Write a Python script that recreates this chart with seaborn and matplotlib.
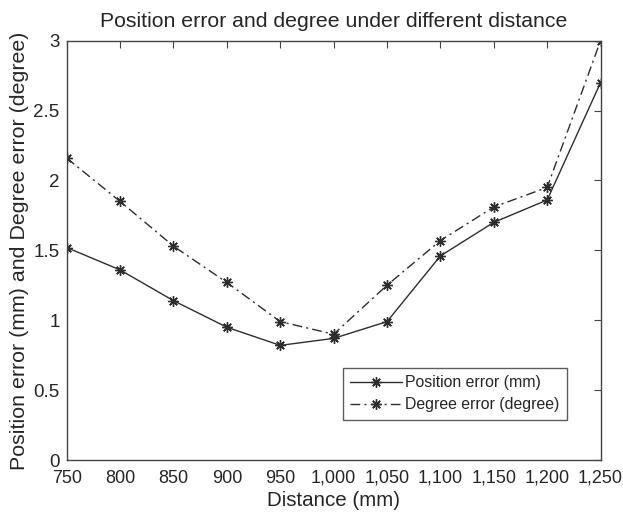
import pandas as pd
import matplotlib
matplotlib.use("Agg")
import matplotlib.pyplot as plt
import seaborn as sns

# === Data ===
distance = [750, 800, 850, 900, 950, 1000, 1050, 1100, 1150, 1200, 1250]
position_error = [1.52, 1.36, 1.14, 0.95, 0.82, 0.87, 0.99, 1.46, 1.70, 1.86, 2.70]
degree_error = [2.16, 1.85, 1.53, 1.27, 0.99, 0.90, 1.25, 1.57, 1.81, 1.95, 3.00]
y_ticks = [0, 0.5, 1, 1.5, 2, 2.5, 3]
y_tick_labels = ["0", "0.5", "1", "1.5", "2", "2.5", "3"]
x_tick_labels = ["750", "800", "850", "900", "950", "1,000", "1,050",
                 "1,100", "1,150", "1,200", "1,250"]

df = pd.DataFrame({"distance": distance,
                   "position": position_error,
                   "degree": degree_error})

# === Style ===
sns.set_style("white")
plt.rcParams["font.family"] = ["Liberation Sans", "DejaVu Sans"]
plt.rcParams["xtick.direction"] = "in"
plt.rcParams["ytick.direction"] = "in"

fig = plt.figure(figsize=(6.23, 5.14), dpi=100)
ax = fig.add_axes([0.107, 0.105, 0.857, 0.816])

star = (8, 2, 0)
line_color = "#2e2e2e"
sns.lineplot(data=df, x="distance", y="position", ax=ax, color=line_color,
             linewidth=1.0, linestyle="-", marker=star, markersize=7.5,
             markeredgewidth=1.0, markeredgecolor=line_color,
             label="Position error (mm)")
sns.lineplot(data=df, x="distance", y="degree", ax=ax, color=line_color,
             linewidth=1.0, linestyle=(0, (7, 3, 1.5, 3)), marker=star, markersize=7.5,
             markeredgewidth=1.0, markeredgecolor=line_color,
             label="Degree error (degree)")

ax.set_xlim(750, 1250)
ax.set_ylim(0, 3)
ax.set_xticks(distance)
ax.set_xticklabels(x_tick_labels, fontsize=13)
ax.set_yticks(y_ticks)
ax.set_yticklabels(y_tick_labels, fontsize=13.5)
ax.tick_params(top=True, right=True, length=5, width=0.8, color="#444444")
ax.tick_params(axis="x", pad=7)
ax.tick_params(axis="y", pad=5)
for side in ax.spines.values():
    side.set_color("#444444")
    side.set_linewidth(1.0)

ax.set_title("Position error and degree under different distance", fontsize=15.3, pad=10)
ax.set_xlabel("Distance (mm)", fontsize=14.8, labelpad=3)
ax.set_ylabel("Position error (mm) and Degree error (degree)", fontsize=15.4, labelpad=3)

leg = ax.legend(loc="upper left", bbox_to_anchor=(0.517, 0.219), fontsize=11.4,
                frameon=True, fancybox=False, edgecolor="#333333",
                handlelength=3.3, borderpad=0.45, labelspacing=0.45,
                handletextpad=0.2, borderaxespad=0)
leg.get_frame().set_linewidth(1.0)

fig.savefig("out.png", dpi=100)
plt.close(fig)
